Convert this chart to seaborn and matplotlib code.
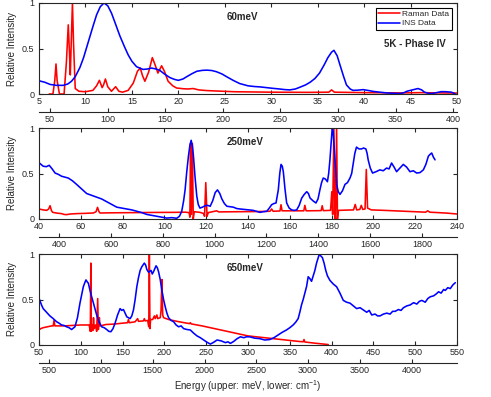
"""
Raman vs INS spectra at three incident energies (5K - Phase IV).
"""

import matplotlib
matplotlib.use("Agg")
import matplotlib.pyplot as plt
import seaborn as sns


MEV_TO_CM = 8.0655

PANEL_TITLES = ["60meV", "250meV", "650meV"]
MEV_LIMITS = [(5, 50), (40, 240), (50, 550)]
MEV_TICKS = [list(range(5, 51, 5)), list(range(40, 241, 20)), list(range(50, 551, 50))]
CM_TICKS = [list(range(50, 401, 50)), list(range(400, 1801, 200)), list(range(500, 4001, 500))]

# ---- 60 meV ----
ins60_energy = [5.0, 5.6, 6.2, 6.9, 7.6, 8.1, 8.5, 8.9, 9.4, 9.8, 10.3, 10.8, 11.2, 11.6, 12.0,
                12.4, 12.8, 13.2, 13.7, 14.2, 14.6, 15.0, 15.5, 16.2, 16.7, 17.1, 17.6, 18.0,
                18.5, 19.1, 19.6, 20.0, 20.5, 20.9, 21.5, 22.0, 22.6, 23.1, 23.6, 24.1, 24.7,
                25.2, 25.9, 26.6, 27.5, 28.2, 28.8, 29.5, 30.2, 30.9, 31.5, 32.0, 32.6, 33.1,
                33.7, 34.2, 34.7, 35.2, 35.7, 36.1, 36.5, 36.75, 37.1, 37.4, 37.8, 38.1, 38.5,
                38.8, 39.3, 39.9, 40.5, 41.0, 41.7, 42.4, 43.1, 43.9, 44.3, 44.6, 45.2, 45.8,
                46.2, 46.5, 46.9, 47.3, 47.8, 48.3, 48.8, 49.4, 49.8]
ins60_intensity = [0.145, 0.13, 0.105, 0.095, 0.095, 0.11, 0.14, 0.19, 0.29, 0.40, 0.57, 0.74,
                   0.87, 0.96, 1.0, 0.97, 0.89, 0.78, 0.64, 0.52, 0.43, 0.36, 0.30, 0.27, 0.275,
                   0.285, 0.275, 0.26, 0.22, 0.18, 0.16, 0.15, 0.165, 0.19, 0.225, 0.25, 0.26,
                   0.262, 0.258, 0.245, 0.22, 0.19, 0.15, 0.115, 0.09, 0.082, 0.078, 0.07, 0.062,
                   0.055, 0.048, 0.045, 0.055, 0.075, 0.10, 0.13, 0.17, 0.23, 0.32, 0.40, 0.46,
                   0.48, 0.42, 0.32, 0.19, 0.10, 0.055, 0.04, 0.042, 0.048, 0.038, 0.028, 0.02,
                   0.012, 0.008, 0.005, 0.015, 0.03, 0.045, 0.06, 0.045, 0.02, 0.008, 0.005,
                   0.015, 0.026, 0.025, 0.02, 0.002]
raman60_energy = [6.1, 6.5, 6.7, 6.83, 6.95, 7.2, 7.7, 7.95, 8.15, 8.28, 8.37, 8.48, 8.6, 8.72,
                  8.9, 9.3, 10.0, 10.8, 11.2, 11.5, 11.8, 11.95, 12.15, 12.4, 12.8, 13.25, 13.6,
                  14.0, 14.6, 15.15, 15.6, 15.9, 16.15, 16.4, 16.8, 17.2, 17.5, 17.8, 18.0, 18.2,
                  18.5, 18.9, 19.4, 19.8, 20.5, 21.0, 21.6, 22.2, 23.0, 24.1, 26.0, 30.0, 34.0,
                  36.2, 36.5, 36.8, 40.0, 44.0, 46.0, 50.0]
raman60_intensity = [0.0, 0.0, 0.15, 0.33, 0.15, 0.0, 0.0, 0.35, 0.76, 0.45, 0.21, 0.6, 1.0,
                     0.55, 0.06, 0.03, 0.025, 0.04, 0.09, 0.15, 0.07, 0.10, 0.165, 0.08, 0.03,
                     0.08, 0.03, 0.02, 0.04, 0.12, 0.25, 0.285, 0.20, 0.14, 0.24, 0.40, 0.32,
                     0.23, 0.27, 0.31, 0.25, 0.14, 0.09, 0.066, 0.058, 0.055, 0.06, 0.045, 0.038,
                     0.033, 0.025, 0.02, 0.018, 0.02, 0.045, 0.02, 0.015, 0.012, 0.015, 0.01]

# ---- 250 meV ----
ins250_energy = [40.2, 42.0, 43.5, 44.9, 46.3, 47.7, 49.3, 50.8, 52.4, 54.0, 56.0, 58.0, 60.4,
                 62.8, 65.2, 67.6, 70.0, 72.4, 74.8, 77.2, 79.6, 82.0, 84.4, 86.8, 89.2, 91.6,
                 94.0, 96.4, 98.8, 101.1, 103.5, 105.9, 107.2, 108.3, 109.2, 109.9, 110.7, 111.5,
                 112.2, 112.8, 113.4, 113.9, 114.7, 115.5, 116.2, 117.0, 118.2, 119.5, 120.7,
                 121.9, 123.1, 124.3, 125.4, 126.5, 127.5, 128.7, 129.9, 131.5, 133.0, 134.6,
                 136.2, 138.2, 140.2, 142.5, 144.0, 145.7, 147.3, 149.0, 150.2, 151.3, 152.4,
                 153.4, 154.5, 155.2, 155.8, 156.4, 156.9, 157.7, 158.5, 159.7, 160.9, 162.1,
                 163.3, 164.5, 165.7, 166.9, 168.1, 168.9, 169.7, 171.1, 172.5, 173.5, 174.4,
                 175.2, 176.0, 177.0, 178.0, 178.6, 179.2, 179.8, 180.3, 180.7, 181.1, 181.8,
                 182.4, 183.2, 184.0, 185.2, 186.4, 187.6, 188.8, 189.6, 190.3, 191.1, 191.9,
                 193.1, 194.3, 195.3, 196.4, 197.0, 197.5, 198.5, 199.6, 201.3, 203.1, 204.7,
                 206.3, 207.5, 208.7, 209.9, 211.1, 212.7, 214.3, 215.9, 217.5, 219.1, 220.7,
                 222.3, 223.9, 225.1, 226.3, 227.1, 227.9, 228.7, 229.5]
ins250_intensity = [0.615, 0.58, 0.575, 0.59, 0.55, 0.505, 0.49, 0.47, 0.46, 0.45, 0.42, 0.38,
                    0.33, 0.28, 0.26, 0.24, 0.22, 0.19, 0.16, 0.13, 0.12, 0.11, 0.10, 0.085,
                    0.07, 0.05, 0.04, 0.03, 0.02, 0.01, 0.015, 0.008, 0.03, 0.085, 0.2, 0.32,
                    0.52, 0.69, 0.81, 0.865, 0.80, 0.69, 0.45, 0.25, 0.16, 0.12, 0.13, 0.146,
                    0.15, 0.14, 0.2, 0.29, 0.32, 0.28, 0.22, 0.17, 0.14, 0.135, 0.13, 0.115,
                    0.11, 0.105, 0.10, 0.095, 0.085, 0.073, 0.08, 0.085, 0.12, 0.157, 0.17,
                    0.176, 0.32, 0.5, 0.60, 0.58, 0.52, 0.33, 0.176, 0.12, 0.10, 0.095, 0.10,
                    0.15, 0.23, 0.27, 0.30, 0.28, 0.23, 0.2, 0.176, 0.22, 0.32, 0.40, 0.45, 0.44,
                    0.41, 0.5, 0.65, 0.85, 1.0, 0.97, 0.835, 0.6, 0.38, 0.3, 0.27, 0.31, 0.38,
                    0.40, 0.45, 0.5, 0.60, 0.72, 0.79, 0.77, 0.77, 0.78, 0.77, 0.72, 0.65, 0.56,
                    0.505, 0.52, 0.54, 0.53, 0.56, 0.55, 0.615, 0.57, 0.52, 0.56, 0.60, 0.57,
                    0.52, 0.53, 0.505, 0.51, 0.54, 0.6, 0.69, 0.71, 0.725, 0.68, 0.65]
raman250_energy = [40.0, 42.0, 43.7, 44.6, 45.3, 46.0, 46.6, 48.5, 50.8, 52.0, 53.2, 55.0, 58.0,
                   62.0, 66.0, 67.3, 68.0, 68.7, 69.2, 75.0, 85.0, 95.0, 105.0, 110.0, 111.8,
                   112.2, 112.5, 112.9, 113.4, 113.8, 114.3, 117.0, 118.8, 119.2, 119.8, 120.4,
                   121.0, 125.0, 126.0, 135.0, 145.0, 150.5, 151.3, 152.0, 155.3, 155.8, 156.3,
                   166.7, 167.2, 167.8, 175.0, 175.5, 176.0, 179.5, 180.1, 180.5, 181.1, 181.5,
                   181.9, 182.4, 182.8, 183.3, 190.5, 191.3, 192.0, 193.5, 194.2, 194.9, 196.0,
                   196.6, 197.2, 199.0, 205.0, 215.0, 225.0, 226.0, 227.0, 235.0, 240.0]
raman250_intensity = [0.11, 0.10, 0.095, 0.11, 0.146, 0.09, 0.073, 0.065, 0.059, 0.05, 0.048,
                      0.055, 0.059, 0.062, 0.066, 0.08, 0.128, 0.08, 0.066, 0.068, 0.07, 0.072,
                      0.073, 0.075, 0.07, 0.02, 0.83, 0.05, 0.83, 0.0, 0.08, 0.073, 0.06, 0.03,
                      0.40, 0.03, 0.07, 0.09, 0.078, 0.08, 0.082, 0.085, 0.11, 0.085, 0.088,
                      0.157, 0.09, 0.09, 0.15, 0.09, 0.092, 0.146, 0.092, 0.095, 0.30, 0.05, 1.0,
                      0.0, 0.0, 1.0, 0.0, 0.095, 0.10, 0.16, 0.10, 0.105, 0.15, 0.105, 0.11,
                      0.545, 0.12, 0.10, 0.095, 0.085, 0.075, 0.09, 0.075, 0.065, 0.055]

# ---- 650 meV ----
ins650_energy = [50.2, 53, 55, 59, 63, 67, 71, 74, 77, 80, 83, 86, 89, 91, 93, 96, 99, 101, 103,
                 105, 106.2, 108, 109, 111, 113, 116, 119, 122, 125, 128, 131, 133.5, 136, 138.5,
                 141, 144, 147, 149, 151, 153, 155, 157, 159, 161, 163, 165, 167, 169, 171, 173,
                 176, 177.5, 179, 181, 184, 185.5, 187, 190, 191.5, 193, 195, 197, 199, 201, 203,
                 205, 208, 211, 214, 217, 220, 223, 227, 231, 235, 239, 243, 247, 251, 255, 259,
                 263, 268, 273, 276, 279, 283, 287, 291, 295, 298, 302, 308, 314, 320, 326, 331,
                 336, 341, 346, 350, 354, 357, 360, 362, 364, 366, 368, 370, 372, 374, 376, 378,
                 380, 382, 385, 387, 389, 391, 393, 395, 398, 402, 406, 410, 414, 418, 422, 426,
                 430, 434, 438, 442, 445, 448, 452, 455, 458, 462, 466, 470, 473, 476, 480, 483,
                 486, 490, 494, 498, 502, 505, 508, 512, 515, 518, 522, 525, 528, 531, 534, 536,
                 539, 542, 545, 548]
ins650_intensity = [0.51, 0.44, 0.40, 0.36, 0.32, 0.29, 0.256, 0.24, 0.22, 0.215, 0.20, 0.19,
                    0.17, 0.185, 0.20, 0.3, 0.46, 0.55, 0.64, 0.69, 0.715, 0.69, 0.68, 0.6, 0.53,
                    0.43, 0.33, 0.25, 0.20, 0.19, 0.17, 0.15, 0.146, 0.18, 0.24, 0.33, 0.40,
                    0.38, 0.39, 0.35, 0.31, 0.30, 0.29, 0.32, 0.385, 0.5, 0.64, 0.74, 0.82, 0.86,
                    0.90, 0.88, 0.83, 0.80, 0.82, 0.78, 0.806, 0.87, 0.85, 0.806, 0.72, 0.60,
                    0.5, 0.42, 0.35, 0.30, 0.27, 0.256, 0.22, 0.20, 0.21, 0.18, 0.17, 0.165,
                    0.13, 0.10, 0.08, 0.055, 0.03, 0.01, 0.03, 0.055, 0.045, 0.026, 0.035, 0.018,
                    0.04, 0.07, 0.09, 0.08, 0.09, 0.09, 0.075, 0.07, 0.055, 0.06, 0.08, 0.11,
                    0.14, 0.165, 0.19, 0.22, 0.25, 0.29, 0.36, 0.44, 0.5, 0.57, 0.64, 0.75, 0.73,
                    0.70, 0.76, 0.82, 0.9, 0.99, 0.98, 0.96, 0.9, 0.82, 0.76, 0.71, 0.67, 0.64,
                    0.57, 0.49, 0.47, 0.46, 0.43, 0.40, 0.41, 0.385, 0.36, 0.38, 0.33, 0.34,
                    0.32, 0.32, 0.34, 0.35, 0.34, 0.37, 0.37, 0.39, 0.38, 0.41, 0.43, 0.44,
                    0.465, 0.45, 0.48, 0.49, 0.47, 0.51, 0.53, 0.54, 0.56, 0.585, 0.57, 0.61,
                    0.60, 0.63, 0.62, 0.66, 0.685]
raman650_energy = [50, 52, 55, 60, 65, 67, 68, 69, 80, 90, 100, 108, 110, 111.4, 112.0, 112.6,
                   113.2, 114.5, 115.2, 116.0, 117.5, 119.0, 120.2, 121.0, 122.2, 123.0, 130,
                   140, 150, 156, 157, 158, 165, 168, 169, 175, 176, 177, 180, 181.3, 182.0,
                   182.7, 183.5, 186, 188, 189, 191, 192, 195, 196, 197, 198, 199, 205, 215,
                   225, 230, 231, 232, 245, 260, 275, 290, 300, 320, 340, 360, 366, 367, 368,
                   380, 396]
raman650_intensity = [0.165, 0.18, 0.19, 0.20, 0.21, 0.21, 0.27, 0.21, 0.21, 0.215, 0.22, 0.22,
                      0.22, 0.15, 0.9, 0.15, 0.22, 0.16, 0.30, 0.18, 0.22, 0.15, 0.51, 0.17, 0.3,
                      0.21, 0.225, 0.23, 0.24, 0.245, 0.28, 0.245, 0.255, 0.29, 0.26, 0.265,
                      0.29, 0.265, 0.27, 0.2, 1.0, 0.18, 0.28, 0.28, 0.32, 0.29, 0.33, 0.29, 0.3,
                      0.38, 0.72, 0.33, 0.30, 0.28, 0.26, 0.243, 0.235, 0.245, 0.232, 0.21, 0.18,
                      0.15, 0.12, 0.10, 0.08, 0.06, 0.04, 0.035, 0.06, 0.033, 0.02, 0.005]

RAMAN = [(raman60_energy, raman60_intensity), (raman250_energy, raman250_intensity),
         (raman650_energy, raman650_intensity)]
INS = [(ins60_energy, ins60_intensity), (ins250_energy, ins250_intensity),
       (ins650_energy, ins650_intensity)]


def mev_to_cm(energy):
    return energy * MEV_TO_CM


def cm_to_mev(wavenumber):
    return wavenumber / MEV_TO_CM


def main() -> None:
    sns.set_style("ticks")
    plt.rcParams["font.family"] = ["Liberation Sans", "DejaVu Sans"]
    plt.rcParams["mathtext.default"] = "regular"
    plt.rcParams["axes.linewidth"] = 0.8

    fig = plt.figure(figsize=(4.91, 3.97), dpi=100)

    # panel boxes in pixels: (top, bottom)
    boxes = [(3, 94), (128, 219), (254, 345)]
    left, width = 39 / 491, 418 / 491

    for i, (top, bottom) in enumerate(boxes):
        ax = fig.add_axes([left, 1 - bottom / 397, width, (bottom - top) / 397])

        sns.lineplot(x=RAMAN[i][0], y=RAMAN[i][1], ax=ax, color="#ff0000",
                     linewidth=1.15, estimator=None, sort=False, label="Raman Data")
        sns.lineplot(x=INS[i][0], y=INS[i][1], ax=ax, color="#0000ff",
                     linewidth=1.15, estimator=None, sort=False, label="INS Data")

        ax.set_xlim(*MEV_LIMITS[i])
        ax.set_ylim(0, 1)
        ax.set_xticks(MEV_TICKS[i])
        ax.set_yticks([0, 0.5, 1])
        ax.set_yticklabels(["0", "0.5", "1"])
        ax.tick_params(direction="in", top=True, right=True, length=3,
                       width=0.8, labelsize=6.5)
        ax.tick_params(axis="x", pad=2.5)
        ax.tick_params(axis="y", pad=3.5)
        ax.set_ylabel("Relative Intensity", fontsize=7, labelpad=3)

        ax.text(0.45, 0.85, PANEL_TITLES[i], transform=ax.transAxes,
                fontsize=7, fontweight="bold", va="center", ha="left")

        sec = ax.secondary_xaxis(-0.2, functions=(mev_to_cm, cm_to_mev))
        sec.set_xticks(CM_TICKS[i])
        sec.tick_params(direction="in", length=3, width=0.8, labelsize=6.5, pad=2)
        sec.spines["bottom"].set_linewidth(0.8)

        if i == 0:
            ax.legend(loc="upper right", fontsize=6, frameon=True, fancybox=False,
                      edgecolor="black", framealpha=1, borderpad=0.3,
                      labelspacing=0.15, handlelength=2.6, handletextpad=0.3,
                      borderaxespad=0.6)
            ax.get_legend().get_frame().set_linewidth(0.8)
            ax.text(0.972, 0.55, "5K - Phase IV", transform=ax.transAxes,
                    fontsize=7, fontweight="bold", va="center", ha="right")
        else:
            ax.get_legend().remove()

        if i == 2:
            sec.set_xlabel("Energy (upper: meV, lower: cm$^{-1}$)", fontsize=7, labelpad=2)

    fig.savefig("out.png", dpi=100)
    plt.close(fig)


if __name__ == "__main__":
    main()
